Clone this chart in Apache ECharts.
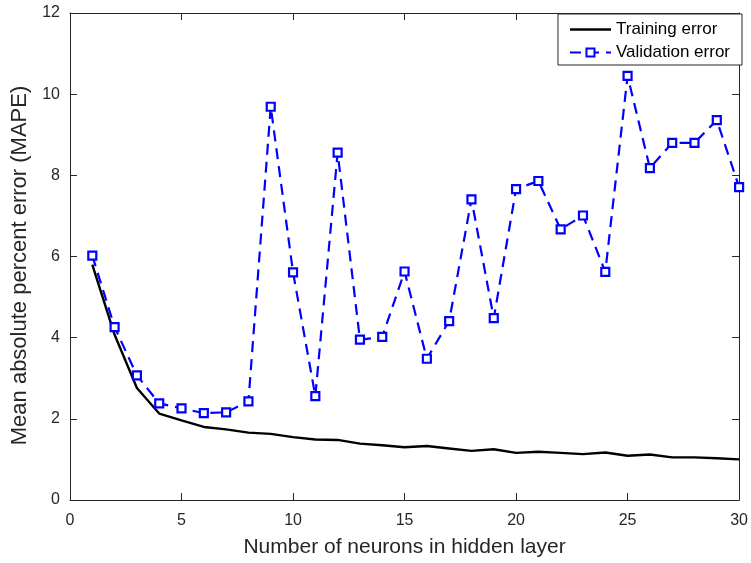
<!DOCTYPE html>
<html>
<head>
<meta charset="utf-8">
<script src="https://cdn.jsdelivr.net/npm/echarts@6/dist/echarts.min.js"></script>
<style>html,body{margin:0;padding:0;background:#fff}#c{width:751px;height:563px}</style>
</head>
<body>
<div id="c"></div>
<script>
const neurons = [1,2,3,4,5,6,7,8,9,10,11,12,13,14,15,16,17,18,19,20,21,22,23,24,25,26,27,28,29,30];
const trainingError = [5.80,4.07,2.76,2.13,1.96,1.80,1.74,1.66,1.63,1.55,1.49,1.48,1.39,1.35,1.30,1.33,1.27,1.21,1.25,1.16,1.19,1.16,1.13,1.17,1.09,1.12,1.05,1.05,1.03,1.00];
const validationError = [6.02,4.26,3.07,2.38,2.26,2.14,2.16,2.43,9.69,5.61,2.56,8.56,3.95,4.02,5.63,3.48,4.41,7.41,4.48,7.66,7.86,6.67,7.01,5.62,10.45,8.18,8.80,8.80,9.36,7.71];
const xTicks = {min:0, max:30, interval:5};
const yTicks = {min:0, max:12, interval:2};
const xTitle = 'Number of neurons in hidden layer';
const yTitle = 'Mean absolute percent error (MAPE)';
const seriesNames = ['Training error','Validation error'];

const axisCol = '#262626';
const font = 'Liberation Sans, Arial, Helvetica, sans-serif';
const chart = echarts.init(document.getElementById('c'));
const baseAxis = (extra) => Object.assign({
  type:'value',
  splitLine:{show:false},
  axisLine:{show:true,onZero:false,lineStyle:{color:axisCol,width:1}},
  axisTick:{show:true,inside:true,length:7,lineStyle:{color:axisCol}},
  axisLabel:{color:axisCol,fontSize:16,fontFamily:font},
  nameTextStyle:{color:axisCol,fontSize:19,fontFamily:font}
}, extra);

chart.setOption({
  animation:false,
  backgroundColor:'#fff',
  grid:{left:70,right:9,top:13,bottom:62,containLabel:false},
  xAxis:[
    baseAxis(Object.assign({}, xTicks, {name:xTitle,nameLocation:'middle',nameGap:37,
      nameTextStyle:{color:axisCol,fontSize:21,fontFamily:font},
      axisLabel:{color:axisCol,fontSize:16,fontFamily:font,margin:13}})),
    baseAxis(Object.assign({}, xTicks, {position:'top',axisLabel:{show:false}}))
  ],
  yAxis:[
    baseAxis(Object.assign({}, yTicks, {name:yTitle,nameLocation:'middle',nameGap:35,
      nameTextStyle:{color:axisCol,fontSize:22,fontFamily:font,padding:[0,18,0,0]},
      axisLabel:{color:axisCol,fontSize:16,fontFamily:font,margin:10}})),
    baseAxis(Object.assign({}, yTicks, {position:'right',axisLabel:{show:false}}))
  ],
  legend:{
    orient:'vertical',
    right:9, top:14,
    backgroundColor:'#fff',
    borderColor:axisCol, borderWidth:1, borderRadius:0,
    padding:[7,12,4,11],
    itemGap:6,
    itemWidth:41, itemHeight:10,
    textStyle:{color:'#000',fontSize:17,fontFamily:font},
    data:[
      {name:seriesNames[0], icon:'path://M0,0 L40,0 L40,2.4 L0,2.4 Z', itemStyle:{color:'#000'}},
      {name:seriesNames[1]}
    ]
  },
  series:[
    {name:seriesNames[0], type:'line', data:neurons.map((n,i)=>[n,trainingError[i]]),
     symbol:'none', lineStyle:{color:'#000',width:2.4}, itemStyle:{color:'#000'}, z:2},
    {name:seriesNames[1], type:'line', data:neurons.map((n,i)=>[n,validationError[i]]),
     symbol:'rect', symbolSize:8, showAllSymbol:true,
     lineStyle:{color:'#0000ff',width:2.2,type:[11,7]},
     itemStyle:{color:'#fff',borderColor:'#0000ff',borderWidth:2.2}, z:3}
  ]
});
</script>
</body>
</html>
